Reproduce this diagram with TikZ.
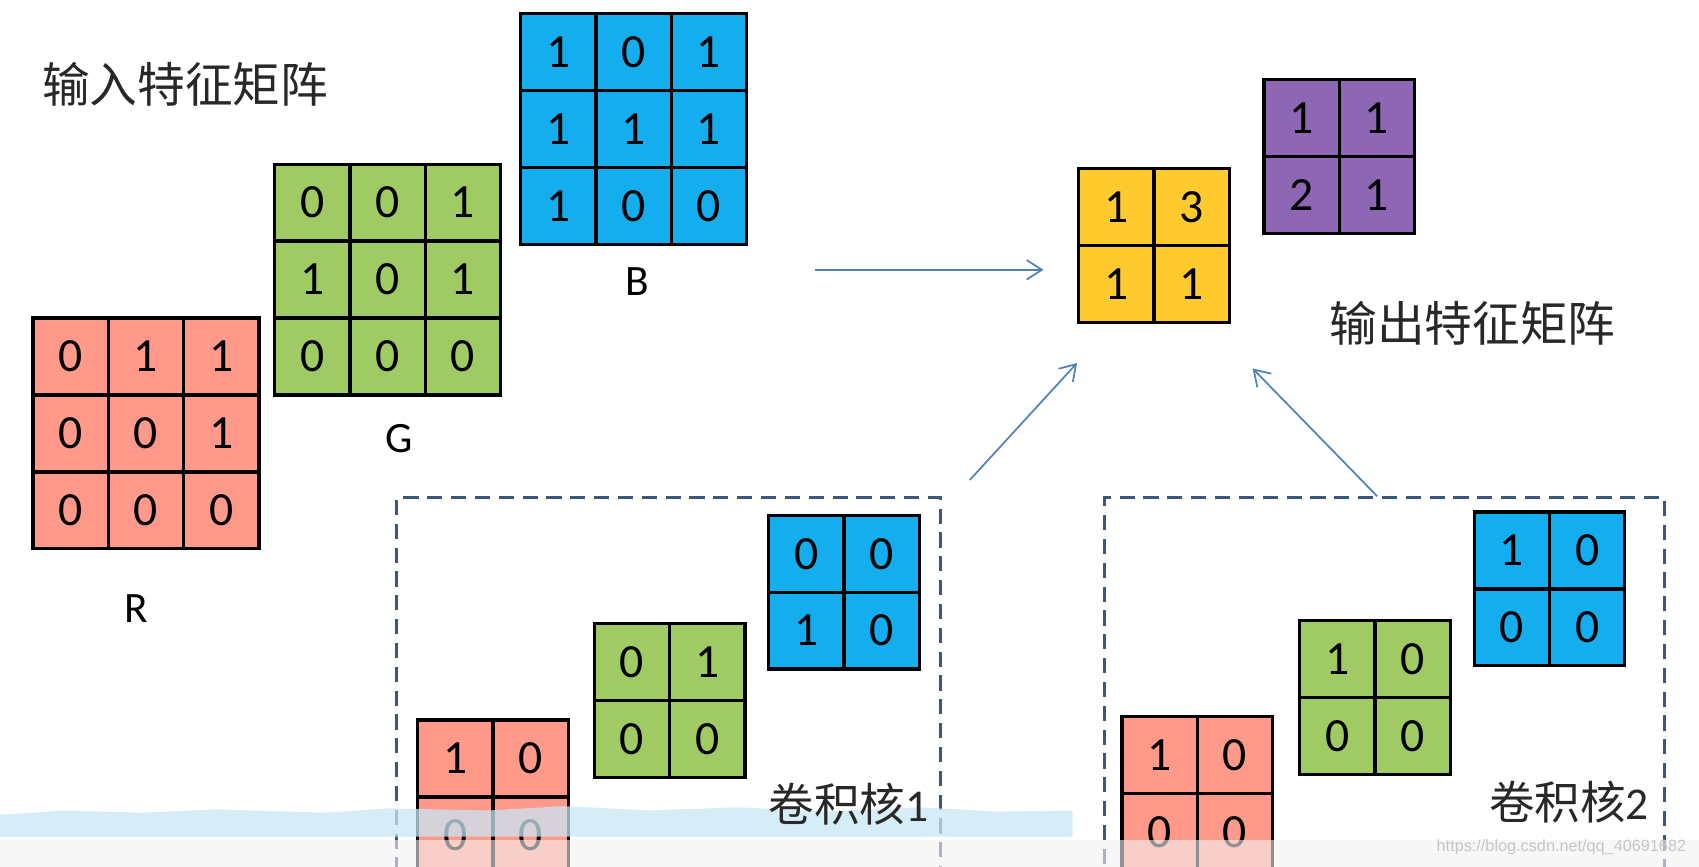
\documentclass[tikz,border=0pt]{standalone}
\usepackage{fontspec}
\setmainfont{Carlito}
\newfontfamily\cjk{Noto Sans CJK SC}
\newfontfamily\wmfont{Liberation Sans}
\usetikzlibrary{arrows.meta,matrix}

\definecolor{cellR}{RGB}{255,153,138}
\definecolor{cellG}{RGB}{160,202,100}
\definecolor{cellB}{RGB}{20,174,239}
\definecolor{cellY}{RGB}{255,202,46}
\definecolor{cellP}{RGB}{142,103,180}
\definecolor{arrowBlue}{RGB}{79,129,189}
\definecolor{boxBlue}{RGB}{59,87,125}
\definecolor{textGray}{RGB}{40,40,40}
\definecolor{bandBlue}{RGB}{200,230,244}

\tikzset{
  featmat/.style={matrix of nodes, anchor=north west, inner sep=0pt, outer sep=0pt,
    column sep=-3pt, row sep=-3pt,
    nodes={draw, fill=#1, line width=3pt, outer sep=0pt, inner sep=0pt,
      minimum width=69.5pt, minimum height=71pt, anchor=center,
      font=\fontsize{44}{44}\selectfont}},
  arr/.style={draw=arrowBlue, line width=1.6pt, -{Straight Barb[length=14pt, width=18pt]}},
  dashbox/.style={draw=boxBlue, line width=2.6pt, dash pattern=on 14pt off 8pt},
  cjklab/.style={text=textGray, inner sep=0pt, font=\cjk\fontsize{44}{44}\selectfont},
  chanlab/.style={inner sep=0pt, font=\fontsize{40}{40}\selectfont},
}

\begin{document}
\begin{tikzpicture}[x=1pt, y=-1pt, line cap=butt, line join=miter]

  \clip (0,0) rectangle (1568,800);

  % ── 输入特征矩阵：R / G / B 三个 3x3 ──
  \node[cjklab] (titleIn) at (171,78) {输入特征矩阵};

  \matrix (inB) [featmat=cellB] at (479,11) { 1 & 0 & 1 \\ 1 & 1 & 1 \\ 1 & 0 & 0 \\ };
  \matrix (inG) [featmat=cellG] at (252,150) { 0 & 0 & 1 \\ 1 & 0 & 1 \\ 0 & 0 & 0 \\ };
  \matrix (inR) [featmat=cellR] at (29,292) { 0 & 1 & 1 \\ 0 & 0 & 1 \\ 0 & 0 & 0 \\ };

  \node[chanlab] (labB) at (588,260) {B};
  \node[chanlab] (labG) at (368,405) {G};
  \node[chanlab] (labR) at (126,562) {R};

  % ── 输出特征矩阵：两个 2x2 ──
  \matrix (outP) [featmat=cellP] at (1165,72) { 1 & 1 \\ 2 & 1 \\ };
  \matrix (outY) [featmat=cellY] at (994,154) { 1 & 3 \\ 1 & 1 \\ };
  \node[cjklab] (titleOut) at (1359,298) {输出特征矩阵};

  % ── 卷积核1（虚线框）──
  \node[dashbox, anchor=north west, minimum width=502pt, minimum height=380pt] (ker1) at (365,458) {};
  \matrix (k1B) [featmat=cellB] at (708,474) { 0 & 0 \\ 1 & 0 \\ };
  \matrix (k1G) [featmat=cellG] at (547,574) { 0 & 1 \\ 0 & 0 \\ };
  \matrix (k1R) [featmat=cellR] at (384,663) { 1 & 0 \\ 0 & 0 \\ };

  % ── 卷积核2（虚线框）──
  \node[dashbox, anchor=north west, minimum width=517pt, minimum height=380pt] (ker2) at (1018,458) {};
  \matrix (k2B) [featmat=cellB] at (1359,471) { 1 & 0 \\ 0 & 0 \\ };
  \matrix (k2G) [featmat=cellG] at (1198,571) { 1 & 0 \\ 0 & 0 \\ };
  \matrix (k2R) [featmat=cellR] at (1034,660) { 1 & 0 \\ 0 & 0 \\ };

  % ── 箭头：端点取原图实测 ──
  \coordinate (hStart) at (752,249);
  \coordinate (hEnd)   at (963,249);
  \coordinate (k1Out)  at (895,443);
  \coordinate (k1In)   at (994,335);
  \coordinate (k2Out)  at (1271,458);
  \coordinate (k2In)   at (1156,340);
  \draw[arr] (hStart) -- (hEnd);
  \draw[arr] (k1Out) -- (k1In);
  \draw[arr] (k2Out) -- (k2In);

  % ── 底部播放器残影 + 水印 ──
  \fill[bandBlue, opacity=0.75] (0,772) -- (0,752) -- (60,748) -- (130,750) -- (200,747)
    -- (300,750) -- (360,746) -- (450,748) -- (520,744) -- (600,748) -- (680,745)
    -- (760,749) -- (850,745) -- (920,749) -- (990,748) -- (990,772) -- cycle;
  \fill[gray!10, opacity=0.6] (0,775) rectangle (1568,800);
  \node[text=gray!45, inner sep=0pt, font=\wmfont\fontsize{15}{15}\selectfont] (wmark) at (1441,782)
    {https://blog.csdn.net/qq\_40691682};

  % 卷积核标题压在残影之上
  \node[cjklab, font=\cjk\fontsize{42}{42}\selectfont] (k1lab) at (783,742)
    {卷积核{\fontspec{Carlito}1}};
  \node[cjklab, font=\cjk\fontsize{42}{42}\selectfont] (k2lab) at (1448,740)
    {卷积核{\fontspec{Carlito}2}};

  \path[use as bounding box] (0,0) rectangle (1568,800);
\end{tikzpicture}
\end{document}
